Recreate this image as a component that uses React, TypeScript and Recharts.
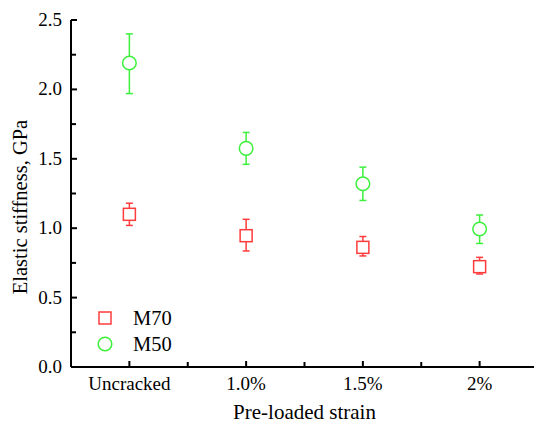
import { ComposedChart, ErrorBar, Scatter, XAxis, YAxis } from "recharts"

const categories = ["Uncracked", "1.0%", "1.5%", "2%"]

const m70 = [1.1, 0.946, 0.862, 0.723]
const m70Low = [1.02, 0.836, 0.8, 0.67]
const m70High = [1.18, 1.064, 0.94, 0.79]

const m50 = [2.19, 1.575, 1.32, 0.994]
const m50Low = [1.97, 1.46, 1.2, 0.89]
const m50High = [2.4, 1.69, 1.44, 1.095]

const yTicks = [0, 0.25, 0.5, 0.75, 1, 1.25, 1.5, 1.75, 2, 2.25, 2.5]

const seriesNames = ["M70", "M50"]

const RED = "#ff3c3c"
const GREEN = "#3cf03c"
const FONT = '"Liberation Serif", "Times New Roman", serif'

const AXIS_X = 71
const AXIS_Y = 367
const BAND = 116.75

const data = categories.map((cat, i) => ({
  cat,
  m70: m70[i],
  m70Err: [m70[i] - m70Low[i], m70High[i] - m70[i]],
  m50: m50[i],
  m50Err: [m50[i] - m50Low[i], m50High[i] - m50[i]],
}))

function YTick(props: any) {
  const { y, payload } = props
  const v = payload.value as number
  const major = Math.abs(v * 2 - Math.round(v * 2)) < 1e-6
  return (
    <g>
      <line x1={AXIS_X} x2={AXIS_X + (major ? 6 : 5)} y1={y} y2={y} stroke="#000" strokeWidth={2} />
      {major && (
        <text x={62} y={y + 6} textAnchor="end" fontSize={19} fontFamily={FONT} fill="#000">
          {v.toFixed(1)}
        </text>
      )}
    </g>
  )
}

function XTick(props: any) {
  const { x, payload, index } = props
  return (
    <g>
      <line x1={x} x2={x} y1={AXIS_Y} y2={AXIS_Y - 6} stroke="#000" strokeWidth={2} />
      {index < categories.length - 1 && (
        <line x1={x + BAND / 2} x2={x + BAND / 2} y1={AXIS_Y} y2={AXIS_Y - 5} stroke="#000" strokeWidth={2} />
      )}
      <text x={x} y={AXIS_Y + 23} textAnchor="middle" fontSize={19} fontFamily={FONT} fill="#000">
        {payload.value}
      </text>
    </g>
  )
}

function YTitle() {
  return (
    <text
      x={27}
      y={207}
      transform="rotate(-90, 27, 207)"
      textAnchor="middle"
      fontSize={20.5}
      fontFamily={FONT}
      fill="#000"
    >
      Elastic stiffness, GPa
    </text>
  )
}

const squareShape = (props: any) => (
  <rect x={props.cx - 6} y={props.cy - 6} width={12} height={12} fill="#fff" stroke={RED} strokeWidth={1.5} />
)

const circleShape = (props: any) => (
  <circle cx={props.cx} cy={props.cy} r={6.8} fill="#fff" stroke={GREEN} strokeWidth={1.5} />
)

function LegendBox() {
  return (
    <svg width={110} height={56} style={{ position: "absolute", left: 95, top: 306, fontFamily: FONT }}>
      <rect x={4} y={6} width={12} height={12} fill="#fff" stroke={RED} strokeWidth={1.5} />
      <text x={38} y={19} fontSize={20.5} fill="#000">{seriesNames[0]}</text>
      <circle cx={10} cy={38} r={6.8} fill="#fff" stroke={GREEN} strokeWidth={1.5} />
      <text x={38} y={45} fontSize={20.5} fill="#000">{seriesNames[1]}</text>
    </svg>
  )
}

export default function App() {
  return (
    <div style={{ position: "absolute", left: 0, top: 0, width: 534, height: 425, overflow: "hidden", background: "#fff" }}>
      <ComposedChart width={540} height={425} data={data} margin={{ top: 20, right: 2, bottom: 0, left: 0 }}>
        <XAxis
          dataKey="cat"
          type="category"
          height={58}
          padding={{ left: BAND / 2, right: BAND / 2 }}
          axisLine={{ stroke: "#000", strokeWidth: 2 }}
          tickLine={false}
          tick={<XTick />}
          interval={0}
          label={{
            value: "Pre-loaded strain",
            position: "insideBottom",
            offset: 6,
            fontSize: 21,
            fontFamily: FONT,
            fill: "#000",
          }}
        />
        <YAxis
          type="number"
          domain={[0, 2.5]}
          ticks={yTicks}
          interval={0}
          width={AXIS_X}
          axisLine={{ stroke: "#000", strokeWidth: 2 }}
          tickLine={false}
          tick={<YTick />}
          label={{ content: () => <YTitle /> }}
        />
        <Scatter name={seriesNames[0]} dataKey="m70" shape={squareShape} isAnimationActive={false}>
          <ErrorBar dataKey="m70Err" direction="y" width={3.5} stroke={RED} strokeWidth={1.5} />
        </Scatter>
        <Scatter name={seriesNames[1]} dataKey="m50" shape={circleShape} isAnimationActive={false}>
          <ErrorBar dataKey="m50Err" direction="y" width={3.5} stroke={GREEN} strokeWidth={1.5} />
        </Scatter>
      </ComposedChart>
      <LegendBox />
    </div>
  )
}
